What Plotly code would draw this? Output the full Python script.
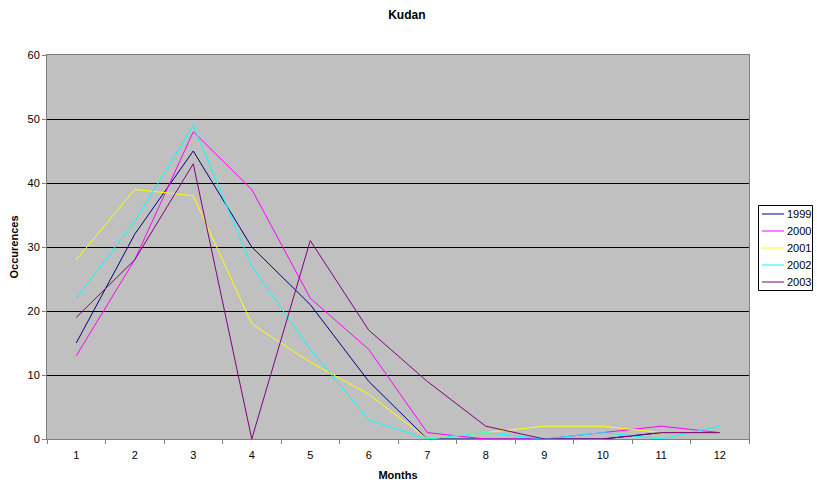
import plotly.graph_objects as go

# Monthly occurrence counts per year
months = ["1", "2", "3", "4", "5", "6", "7", "8", "9", "10", "11", "12"]
occ_1999 = [15, 32, 45, 30, 21, 9, 0, 0, 0, 0, 1, 1]
occ_2000 = [13, 28, 48, 39, 22, 14, 1, 0, 0, 1, 2, 1]
occ_2001 = [28, 39, 38, 18, 12, 7, 0, 1, 2, 2, 1, 1]
occ_2002 = [22, 34, 49, 27, 14, 3, 0, 1, 0, 1, 0, 2]
occ_2003 = [19, 28, 43, 0, 31, 17, 9, 2, 0, 0, 1, 1]

series = [
    ("1999", occ_1999, "#000080"),
    ("2000", occ_2000, "#FF00FF"),
    ("2001", occ_2001, "#FFFF00"),
    ("2002", occ_2002, "#00FFFF"),
    ("2003", occ_2003, "#800080"),
]

font_family = "Liberation Sans, Arial, sans-serif"

W, H = 817, 484
ML, MR, MT, MB = 47, 68, 55, 45
PW, PH = W - ML - MR, H - MT - MB


def px(x):
    """Page pixel x -> paper fraction."""
    return (x - ML) / PW


def py(y):
    """Page pixel y -> paper fraction."""
    return (H - MB - y) / PH


fig = go.Figure()
for name, vals, color in series:
    fig.add_trace(go.Scatter(
        x=months, y=vals, name=name, mode="lines",
        line=dict(color=color, width=1),
        showlegend=False,
    ))

# Boxed key on the right of the plot area
shapes = [dict(
    type="rect", xref="paper", yref="paper",
    x0=px(758.5), x1=px(812.5), y0=py(290.5), y1=py(205.5),
    line=dict(color="black", width=1), fillcolor="white", layer="above",
)]
annotations = []
row_y = [214, 231, 248, 265, 282]
for (name, _, color), ry in zip(series, row_y):
    shapes.append(dict(
        type="line", xref="paper", yref="paper",
        x0=px(762), x1=px(784), y0=py(ry), y1=py(ry),
        line=dict(color=color, width=1), layer="above",
    ))
    annotations.append(dict(
        text=name, xref="paper", yref="paper",
        x=px(785), y=py(ry), xanchor="left", yanchor="middle",
        showarrow=False, font=dict(size=11, family=font_family),
    ))

fig.update_layout(
    width=W, height=H,
    margin=dict(l=ML, r=MR, t=MT, b=MB, autoexpand=False),
    paper_bgcolor="white",
    plot_bgcolor="#C0C0C0",
    font=dict(family=font_family, size=11, color="black"),
    title=dict(
        text="<b>Kudan</b>", x=0.498, xanchor="center",
        y=1 - 15 / H, yanchor="middle",
        font=dict(size=12, family=font_family),
    ),
    showlegend=False,
    shapes=shapes,
    annotations=annotations,
)

fig.update_xaxes(
    type="category", range=[-0.5, 11.5],
    title=dict(text="<b>Months</b>", font=dict(size=11), standoff=11),
    showgrid=False, zeroline=False,
    showline=True, linecolor="#808080", linewidth=1, mirror=True,
    ticks="outside", tickson="boundaries", ticklen=4, tickcolor="#808080",
    ticklabelstandoff=6,
    tickfont=dict(size=11),
)

fig.update_yaxes(
    range=[0, 60], dtick=10,
    title=dict(text="<b>Occurences</b>", font=dict(size=11), standoff=6),
    showgrid=True, gridcolor="black", gridwidth=1,
    zeroline=False,
    showline=True, linecolor="#808080", linewidth=1, mirror=True,
    ticks="outside", ticklen=4, tickcolor="#808080",
    tickfont=dict(size=11),
)

fig.write_html("out.html")
